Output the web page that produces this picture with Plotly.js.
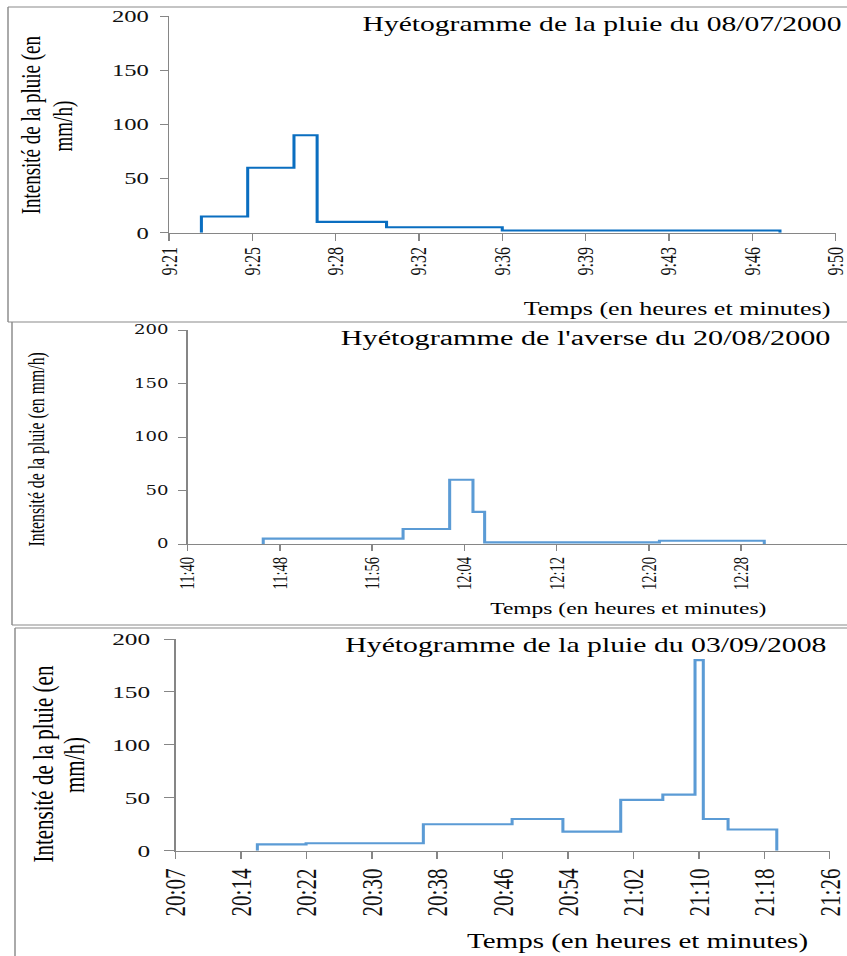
<!DOCTYPE html>
<html>
<head>
<meta charset="utf-8">
<script src="https://cdn.plot.ly/plotly-3.0.1.min.js"></script>
<style>
  html, body { margin: 0; padding: 0; background: #fff; overflow: hidden; }
  #wrap { width: 847px; height: 956px; overflow: hidden; position: relative; }
  #chart { width: 584px; height: 956px; transform-origin: 0 0; }
</style>
</head>
<body>
<div id="wrap"><div id="chart"></div></div>
<script>
// ---------- DATA ----------
// Panel 1 : Hyétogramme de la pluie du 08/07/2000
const p1Title = "Hyétogramme de la pluie du 08/07/2000";
const p1Starts = ["9:22:24", "9:24:24", "9:26:24", "9:27:24", "9:30:24", "9:35:24"];
const p1End = "9:47:24";
const p1Intensity = [15, 60, 90, 10, 5, 2];
const p1TickLabels = ["9:21", "9:25", "9:28", "9:32", "9:36", "9:39", "9:43", "9:46", "9:50"];

// Panel 2 : Hyétogramme de l'averse du 20/08/2000
const p2Title = "Hyétogramme de l'averse du 20/08/2000";
const p2Starts = ["11:46:30", "11:58:30", "12:02:30", "12:04:30", "12:05:30", "12:20:30"];
const p2End = "12:29:30";
const p2Intensity = [5, 14, 60, 30, 1.5, 3];
const p2TickLabels = ["11:40", "11:48", "11:56", "12:04", "12:12", "12:20", "12:28"];

// Panel 3 : Hyétogramme de la pluie du 03/09/2008
const p3Title = "Hyétogramme de la pluie du 03/09/2008";
const p3Starts = ["20:16:54", "20:22:48", "20:37:00", "20:47:45", "20:53:54", "21:00:54", "21:06:00", "21:09:54", "21:10:54", "21:13:54"];
const p3End = "21:19:48";
const p3Intensity = [6, 7, 25, 30, 18, 48, 53, 180, 30, 20];
const p3TickLabels = ["20:07", "20:14", "20:22", "20:30", "20:38", "20:46", "20:54", "21:02", "21:10", "21:18", "21:26"];

const yTicks = [0, 50, 100, 150, 200];
const yTitle1 = "Intensité de la pluie (en";
const yTitle2 = "mm/h)";
const yTitleOneLine = "Intensité de la pluie (en mm/h)";
const xTitle = "Temps (en heures et minutes)";

// ---------- helpers ----------
const W = 584, H = 956, REFW = 847;
const S = REFW / W;
document.getElementById('chart').style.transform = 'scaleX(' + S + ')';

function toMin(s) { const p = s.split(':').map(Number); return p[0] * 60 + p[1] + (p[2] || 0) / 60; }
function stepTrace(starts, end, vals, color, xa, ya) {
  const x = [toMin(starts[0])].concat(starts.map(toMin), [toMin(end)]);
  const y = [0].concat(vals, [0]);
  return { x, y, type: 'scatter', mode: 'lines', line: { shape: 'hv', color, width: 2.1 },
           xaxis: xa, yaxis: ya, hoverinfo: 'skip', showlegend: false, cliponaxis: false };
}
const px = X => X / REFW;
const py = Y => 1 - Y / H;

const AX = '#868686';
const SERIF = 'Liberation Serif, Times New Roman, serif';
const TXT = '#111';

function xAxis(d0, d1, anchor, start, step, labels, rangeEnd, fsize, tlen, standoff) {
  return {
    domain: [px(d0), px(d1)], anchor, range: [start, rangeEnd],
    tickmode: 'array', tickvals: labels.map((_, i) => start + i * step), ticktext: labels,
    tickangle: -90, ticks: 'outside', ticklen: tlen, tickcolor: AX, tickwidth: 1,
    showline: true, linecolor: AX, linewidth: 1, showgrid: false, zeroline: false,
    tickfont: { family: SERIF, size: fsize, color: TXT }, ticklabelstandoff: standoff,
    ticklabeloverflow: 'allow', fixedrange: true
  };
}
function yAxis(ytop, ybot, anchor, fsize, tlen, standoff, fam) {
  return {
    domain: [py(ybot), py(ytop)], anchor, range: [0, 200],
    tickmode: 'array', tickvals: yTicks, ticks: 'outside', ticklen: tlen, tickcolor: AX, tickwidth: 1,
    showline: true, linecolor: AX, linewidth: 1, showgrid: false, zeroline: false,
    tickfont: { family: fam || SERIF, size: fsize, color: TXT }, ticklabelstandoff: standoff,
    fixedrange: true
  };
}

const p1Start = toMin("9:21:00"), p2Start = toMin("11:40:00"), p3Start = toMin("20:07:00");

const data = [
  stepTrace(p1Starts, p1End, p1Intensity, '#0a6ec0', 'x', 'y'),
  stepTrace(p2Starts, p2End, p2Intensity, '#5b9bd5', 'x2', 'y2'),
  stepTrace(p3Starts, p3End, p3Intensity, '#5b9bd5', 'x3', 'y3')
];

function ann(text, X, Y, size, opts) {
  return Object.assign({ text, xref: 'paper', yref: 'paper', x: px(X), y: py(Y), showarrow: false,
    xanchor: 'center', yanchor: 'middle', font: { family: SERIF, size, color: '#000' } }, opts || {});
}

const annotations = [
  ann(p1Title, 359, 25, 20.4, { xanchor: 'left' }),
  ann(p2Title, 338, 338, 20.8, { xanchor: 'left' }),
  ann(p3Title, 342, 645, 20.5, { xanchor: 'left' }),
  ann(xTitle, 677, 309, 18),
  ann(xTitle, 628, 609, 16.2),
  ann(xTitle, 638, 941, 20),
  ann(yTitle1, 31, 125, 19, { textangle: -90 }),
  ann(yTitle2, 63, 126, 19, { textangle: -90 }),
  ann(yTitleOneLine, 37, 450, 15.8, { textangle: -90 }),
  ann(yTitle1, 43, 764, 21, { textangle: -90 }),
  ann(yTitle2, 74, 765, 21, { textangle: -90 })
];

function line(x0, y0, x1, y1) {
  return { type: 'line', xref: 'paper', yref: 'paper', x0: px(x0), y0: py(y0), x1: px(x1), y1: py(y1),
           line: { color: '#8a8a8a', width: 1 } };
}
const shapes = [
  line(8, 7, 847, 7), line(8, 7, 8, 322), line(8, 322, 847, 322),
  line(12, 322, 12, 625), line(12, 625, 847, 625),
  line(15, 628, 847, 628), line(15, 628, 15, 956)
];

const layout = {
  width: W, height: H, margin: { l: 0, r: 0, t: 0, b: 0 },
  paper_bgcolor: '#fff', plot_bgcolor: 'rgba(0,0,0,0)', showlegend: false,
  xaxis: xAxis(169, 836, 'y', p1Start, 3.6, p1TickLabels, p1Start + 28.82, 16, 7, 0),
  yaxis: yAxis(16, 232.7, 'x', 17, 5.5, 4),
  xaxis2: xAxis(187.5, 847, 'y2', p2Start, 7.92, p2TickLabels, p2Start + (847 - 187.5) / 11.652, 14.6, 6, 0),
  yaxis2: yAxis(330, 544, 'x2', 12.5, 5.5, 4, 'DejaVu Serif'),
  xaxis3: xAxis(175.6, 829.8, 'y3', p3Start, 7.92, p3TickLabels, p3Start + 79.22, 21, 7.5, 1),
  yaxis3: yAxis(639, 850.7, 'x3', 17.5, 7, 6),
  annotations, shapes
};

Plotly.newPlot('chart', data, layout, { staticPlot: true, displayModeBar: false });
</script>
</body>
</html>
